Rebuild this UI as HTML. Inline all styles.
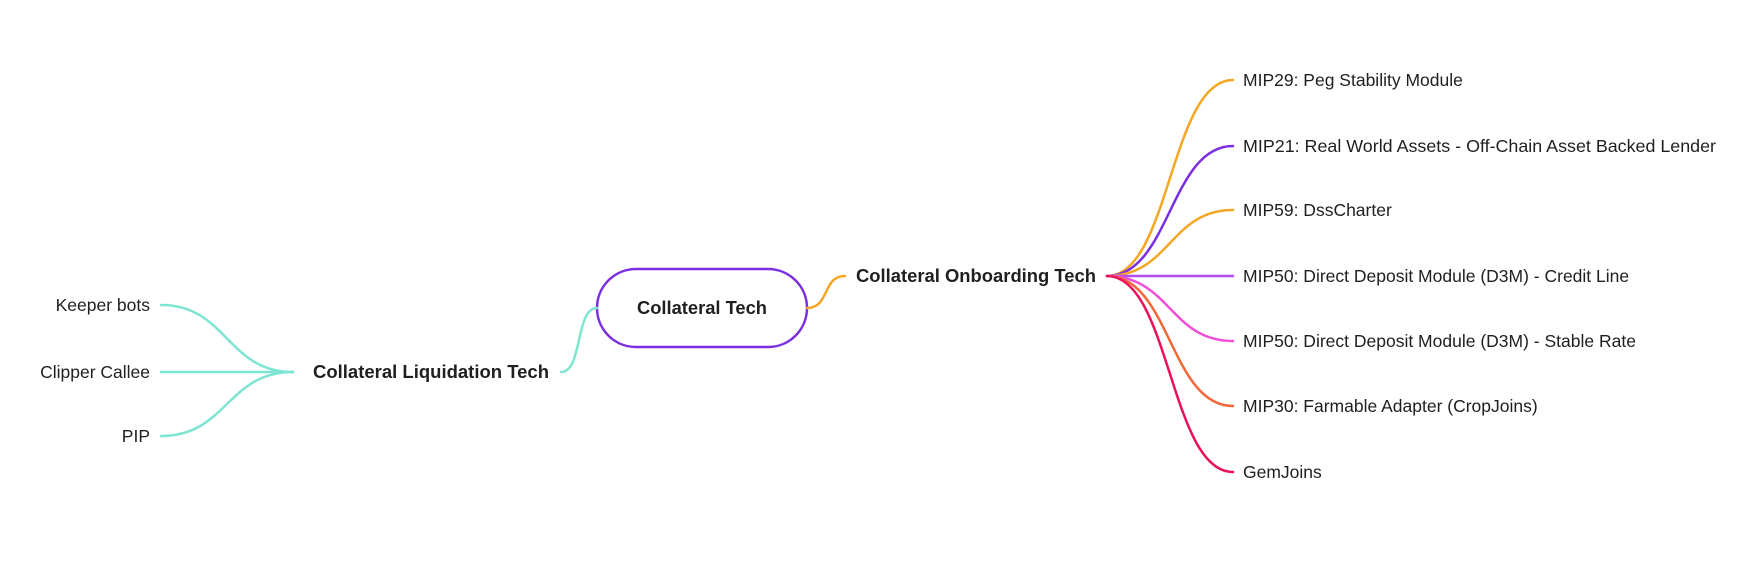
<!DOCTYPE html>
<html><head><meta charset="utf-8"><style>
html,body{margin:0;padding:0;background:#fff;}
svg{display:block;}
text{font-family:"Liberation Sans",sans-serif;fill:#1f1f1f;}
.n{font-size:17.5px;}
.b{font-size:18px;font-weight:bold;}
path{fill:none;stroke-width:2.5;stroke-linecap:round;}
</style></head><body>
<svg width="1746" height="572" viewBox="0 0 1746 572" xmlns="http://www.w3.org/2000/svg">
<rect x="597" y="269" width="210" height="78" rx="39" fill="#fff" stroke="#7b2fe0" stroke-width="2.5"/>
<text class="b" x="702" y="314" text-anchor="middle" textLength="130" lengthAdjust="spacingAndGlyphs">Collateral Tech</text>

<path d="M807 308 C830 308 822 276 845 276" stroke="#f5a623"/>
<path d="M597 308 C575 308 583 372 561 372" stroke="#7ee5d3"/>

<text class="b" x="856" y="282" textLength="240" lengthAdjust="spacingAndGlyphs">Collateral Onboarding Tech</text>
<text class="b" x="313" y="378" textLength="236" lengthAdjust="spacingAndGlyphs">Collateral Liquidation Tech</text>

<path d="M293 372 C227 372 227 305 161 305" stroke="#7ee5d3"/>
<path d="M293 372 L161 372" stroke="#7ee5d3"/>
<path d="M293 372 C227 372 227 436 161 436" stroke="#7ee5d3"/>
<text class="n" x="150" y="311" text-anchor="end">Keeper bots</text>
<text class="n" x="150" y="378" text-anchor="end">Clipper Callee</text>
<text class="n" x="150" y="442" text-anchor="end">PIP</text>

<path d="M1107 276 C1170 276 1170 80 1233 80" stroke="#f5a623"/>
<path d="M1107 276 C1170 276 1170 146 1233 146" stroke="#7b2fe0"/>
<path d="M1107 276 C1170 276 1170 210 1233 210" stroke="#f5a623"/>
<path d="M1107 276 L1233 276" stroke="#b44cf0"/>
<path d="M1107 276 C1170 276 1170 341 1233 341" stroke="#f050d8"/>
<path d="M1107 276 C1170 276 1170 406 1233 406" stroke="#f2683a"/>
<path d="M1107 276 C1170 276 1170 472 1233 472" stroke="#e8125c"/>

<text class="n" x="1243" y="86">MIP29: Peg Stability Module</text>
<text class="n" x="1243" y="152" textLength="473" lengthAdjust="spacingAndGlyphs">MIP21: Real World Assets - Off-Chain Asset Backed Lender</text>
<text class="n" x="1243" y="216">MIP59: DssCharter</text>
<text class="n" x="1243" y="282">MIP50: Direct Deposit Module (D3M) - Credit Line</text>
<text class="n" x="1243" y="347">MIP50: Direct Deposit Module (D3M) - Stable Rate</text>
<text class="n" x="1243" y="412">MIP30: Farmable Adapter (CropJoins)</text>
<text class="n" x="1243" y="478">GemJoins</text>
</svg>
</body></html>
